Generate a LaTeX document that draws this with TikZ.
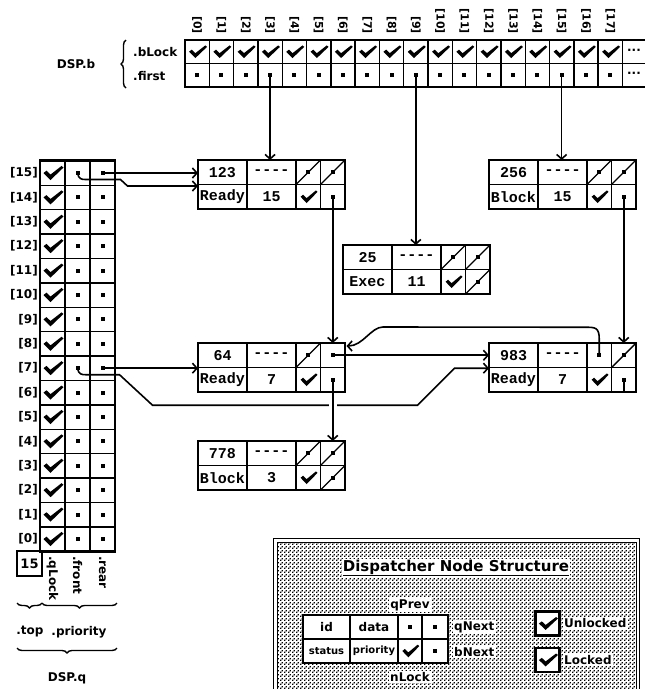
\documentclass[tikz,border=0pt]{standalone}
\usepackage{fontspec}
\usetikzlibrary{arrows.meta,decorations.pathreplacing,patterns,calc}
\newfontfamily\dsfam{DejaVu Sans}
\newfontfamily\dmfam{Liberation Mono}
\newcommand\dslab{\dsfam\bfseries\fontsize{12}{14}\selectfont}
\newcommand\dsidx{\dsfam\bfseries\fontsize{11}{13}\selectfont}
\newcommand\dssmall{\dsfam\bfseries\fontsize{10}{12}\selectfont}
\newcommand\dstitle{\dsfam\bfseries\fontsize{15}{17}\selectfont}
\newcommand\dmtext{\dmfam\bfseries\fontsize{15}{17}\selectfont}
\pgfdeclarepatternformonly{macdots}{\pgfqpoint{0pt}{0pt}}{\pgfqpoint{4pt}{4pt}}{\pgfqpoint{4pt}{4pt}}{%
  \pgfpathrectangle{\pgfqpoint{0pt}{0pt}}{\pgfqpoint{1.7pt}{1.7pt}}%
  \pgfpathrectangle{\pgfqpoint{2pt}{2pt}}{\pgfqpoint{1.7pt}{1.7pt}}%
  \pgfusepath{fill}}
\tikzset{
  cell/.style={draw, line width=1.5pt, fill=white, minimum width=#1, minimum height=24.5pt, inner sep=0pt, outer sep=0pt},
  acell/.style={draw, line width=1.4pt, minimum width=24.3pt, minimum height=23.5pt, inner sep=0pt},
  qcell/.style={draw, line width=1.4pt, minimum width=25pt, minimum height=24.4pt, inner sep=0pt},
  thickbox/.style={draw, line width=2.8pt, inner sep=0pt, outer sep=0pt},
  ptr/.style={line width=1.6pt, -{Straight Barb[length=4.5pt,width=10pt]}},
  wire/.style={line width=1.6pt},
  lbl/.style={inner sep=0pt, font=\dslab},
  tag/.style={fill=white, inner sep=1pt, font=\dslab},
  brc/.style={decorate, decoration={brace, amplitude=5pt}, line width=1.4pt},
  pics/chk/.style={code={\fill (-9,0) -- (-6,-3) -- (-2,2) -- (9,-9) -- (11,-7) -- (-2,9) -- cycle;}},
  pics/dotp/.style={code={\fill (-2,-2) rectangle (2,2);}},
  pics/slashp/.style={code={\draw[line width=1.4pt] (-12.25,12.25) -- (12.25,-12.25); \fill (-2,-2) rectangle (2,2);}},
}
\newcommand\dsnode[6]{%
  \node[cell=49pt, font=\dmtext] (#1-id) at ({#2+24.5},{#3+12.25}) {#4};
  \node[cell=49pt, font=\dmtext] (#1-data) at ({#2+73.5},{#3+12.25}) {----};
  \node[cell=24.5pt] (#1-qp) at ({#2+110.25},{#3+12.25}) {};
  \node[cell=24.5pt] (#1-qn) at ({#2+134.75},{#3+12.25}) {};
  \node[cell=49pt, font=\dmtext] (#1-st) at ({#2+24.5},{#3+36.75}) {#5};
  \node[cell=49pt, font=\dmtext] (#1-pr) at ({#2+73.5},{#3+36.75}) {#6};
  \node[cell=24.5pt] (#1-lk) at ({#2+110.25},{#3+36.75}) {};
  \node[cell=24.5pt] (#1-bn) at ({#2+134.75},{#3+36.75}) {};
  \node[thickbox, minimum width=147pt, minimum height=49pt, anchor=north west] (#1) at (#2,#3) {};
}
\begin{document}
\begin{tikzpicture}[x=1pt,y=-1pt]
\useasboundingbox (0,0) rectangle (645,689);
\clip (0,0) rectangle (645,689);

% ---------- DSP.b ----------
\foreach \k in {0,...,17} {
  \pgfmathsetmacro\xx{185+24.3*\k+12.15}
  \node[acell] (bl\k) at (\xx,51.75) {};
  \node[acell] (bf\k) at (\xx,75.25) {};
  \pic[xscale=.9,yscale=.7] at (bl\k) {chk};
  \pic at (bf\k) {dotp};
  \node[inner sep=0pt, font=\dsidx, rotate=-90, anchor=east] (bi\k) at (\xx,34) {[\k]};
}
\node[thickbox, minimum width=470pt, minimum height=47pt, anchor=north west] (DSPb) at (185,40) {};
\draw[line width=1.4pt] (DSPb.west) -- (DSPb.east);
\node[lbl] (ell1) at (634,51.75) {···};
\node[lbl] (ell2) at (634,75.25) {···};
\node[lbl] (dspb) at (76,64) {DSP.b};
\draw[brc] (126,88) -- (126,40);
\node[lbl, anchor=west] (blockl) at (133,52) {.bLock};
\node[lbl, anchor=west] (firstl) at (133,76) {.first};

% ---------- DSP.q ----------
\foreach \k in {0,...,15} {
  \pgfmathsetmacro\yy{160.8+(15-\k)*24.4+12.2}
  \node[qcell] (q\k-l) at (52.5,\yy) {};
  \node[qcell] (q\k-f) at (77.5,\yy) {};
  \node[qcell] (q\k-r) at (102.5,\yy) {};
  \pic[yscale=.78] at (q\k-l) {chk};
  \pic at (q\k-f) {dotp};
  \pic at (q\k-r) {dotp};
  \node[lbl, anchor=east] (qi\k) at (38,\yy) {[\k]};
}
\node[thickbox, minimum width=75pt, minimum height=390.4pt, anchor=north west] (DSPq) at (40,160.8) {};
\node[thickbox, minimum size=25pt, font=\dsfam\bfseries\fontsize{13}{15}\selectfont] (topv) at (29.5,563.5) {15};
\node[lbl, rotate=-90, anchor=west] (qlockl) at (52.5,556) {.qLock};
\node[lbl, rotate=-90, anchor=west] (frontl) at (77.5,556) {.front};
\node[lbl, rotate=-90, anchor=west] (rearl) at (102.5,556) {.rear};
\draw[brc] (42,603) -- (17,603);
\draw[brc] (117,603) -- (42,603);
\node[lbl] (topl) at (30,632) {.top};
\node[lbl] (prl) at (79,632) {.priority};
\draw[brc] (117,648) -- (17,648);
\node[lbl] (dspq) at (67,678) {DSP.q};

% ---------- dispatcher nodes ----------
\dsnode{N123}{198}{160}{123}{Ready}{15}
\dsnode{N256}{489}{160}{256}{Block}{15}
\dsnode{N25}{343}{245}{25}{Exec}{11}
\dsnode{N64}{198}{343}{64}{Ready}{7}
\dsnode{N983}{489}{343}{983}{Ready}{7}
\dsnode{N778}{198}{441}{778}{Block}{3}

\pic at (N123-qp) {slashp}; \pic at (N123-qn) {slashp};
\pic[xscale=.85,yscale=.7] at (N123-lk) {chk}; \pic at (N123-bn) {dotp};
\pic at (N256-qp) {slashp}; \pic at (N256-qn) {slashp};
\pic[xscale=.85,yscale=.7] at (N256-lk) {chk}; \pic at (N256-bn) {dotp};
\pic at (N25-qp) {slashp}; \pic at (N25-qn) {slashp};
\pic[xscale=.85,yscale=.7] at (N25-lk) {chk}; \pic at (N25-bn) {slashp};
\pic at (N64-qp) {slashp}; \pic at (N64-qn) {dotp};
\pic[xscale=.85,yscale=.7] at (N64-lk) {chk}; \pic at (N64-bn) {dotp};
\pic at (N983-qp) {dotp}; \pic at (N983-qn) {slashp};
\pic[xscale=.85,yscale=.7] at (N983-lk) {chk}; \pic at (N983-bn) {dotp};
\pic at (N778-qp) {slashp}; \pic at (N778-qn) {slashp};
\pic[xscale=.85,yscale=.7] at (N778-lk) {chk}; \pic at (N778-bn) {slashp};

% ---------- connectors ----------
\draw[ptr] (bf3.center) -- (bf3.center |- N123.north);
\draw[ptr] (bf9.center) -- (bf9.center |- N25.north);
\draw[ptr] (bf15.center) -- (bf15.center |- N256.north);
\draw[ptr] (q15-r.center) -- (q15-r.center -| N123.west);
\draw[ptr] (q15-f.center) .. controls ($(q15-f.center)+(1,6)$) and ($(q15-f.center)+(4,6.5)$) .. ($(q15-f.center)+(8,6.5)$)
   -- ++(35,0) -- ++(7,6.5) coordinate (f15) -- (f15 -| N123.west);
\draw[ptr] (q7-r.center) -- (q7-r.center -| N64.west);
\draw[ptr] (q7-f.center) .. controls ($(q7-f.center)+(1,6)$) and ($(q7-f.center)+(4,6.5)$) .. ($(q7-f.center)+(8,6.5)$)
   -- ++(34,0) -- ++(33,30.5) -- ++(265,0) -- ++(37,-37) coordinate (f7) -- (f7 -| N983.west);
\draw[ptr] (N64-qn.center) -- (N64-qn.center -| N983.west);
\draw[ptr] (N983-qp.center) -- ($(N983-qp.center)+(0,-16)$)
   .. controls ($(N983-qp.center)+(0,-28)$) and ($(N983-qp.center)+(-4,-28)$) .. ($(N983-qp.center)+(-14,-28)$)
   -- ($(N64.north east)+(38,-16)$)
   .. controls ($(N64.north east)+(26,-16)$) and ($(N64.north east)+(18,3)$) .. ($(N64.north east)+(1.5,3)$);
\draw[ptr] (N123-bn.center) -- (N123-bn.center |- N64.north);
\draw[ptr] (N256-bn.center) -- (N256-bn.center |- N983.north);
\fill[white] (328.75,401) rectangle (336.75,409);
\draw[ptr] (N64-bn.center) -- (N64-bn.center |- N778.north);
\draw[wire] (N983-bn.center) -- (N983-bn.south);

% ---------- legend ----------
\node[draw, line width=1pt, double, double distance=2.6pt, pattern=macdots, pattern color=black,
      minimum width=362.6pt, minimum height=170pt, anchor=north west, inner sep=0pt, outer sep=0pt] (legend) at (275.2,540.2) {};
\node[tag, font=\dstitle] (title) at (456,568) {\underline{Dispatcher Node Structure}};
\node[cell=47pt, minimum height=24pt, font=\dslab] (lg-id) at (326.5,627) {id};
\node[cell=48pt, minimum height=24pt, font=\dslab] (lg-data) at (374,627) {data};
\node[cell=24pt, minimum height=24pt] (lg-qp) at (410,627) {};
\node[cell=26pt, minimum height=24pt] (lg-qn) at (435,627) {};
\node[cell=47pt, minimum height=24pt, font=\dssmall] (lg-st) at (326.5,651) {status};
\node[cell=48pt, minimum height=24pt, font=\dssmall] (lg-pr) at (374,651) {priority};
\node[cell=24pt, minimum height=24pt] (lg-lk) at (410,651) {};
\node[cell=26pt, minimum height=24pt] (lg-bn) at (435,651) {};
\node[thickbox, minimum width=145pt, minimum height=48pt, anchor=north west] (lgnode) at (303,615) {};
\pic at (lg-qp) {dotp}; \pic at (lg-qn) {dotp}; \pic at (lg-bn) {dotp};
\pic[xscale=.85,yscale=.7] at (lg-lk) {chk};
\node[tag] (qprev) at (410,605) {qPrev};
\node[tag, anchor=west] (qnext) at (453,627) {qNext};
\node[tag, anchor=west] (bnext) at (453,652) {bNext};
\node[tag] (nlock) at (410,677) {nLock};
\node[thickbox, fill=white, minimum size=24pt] (unl) at (547.5,623.5) {};
\pic[xscale=.95,yscale=.72] at (unl) {chk};
\node[tag, anchor=west] (unltxt) at (563,623.5) {Unlocked};
\node[thickbox, fill=white, minimum size=24pt] (lck) at (547.5,660) {};
\pic[xscale=.95,yscale=.72] at (lck) {chk};
\node[tag, anchor=west] (lcktxt) at (563,660) {Locked};
\end{tikzpicture}
\end{document}
